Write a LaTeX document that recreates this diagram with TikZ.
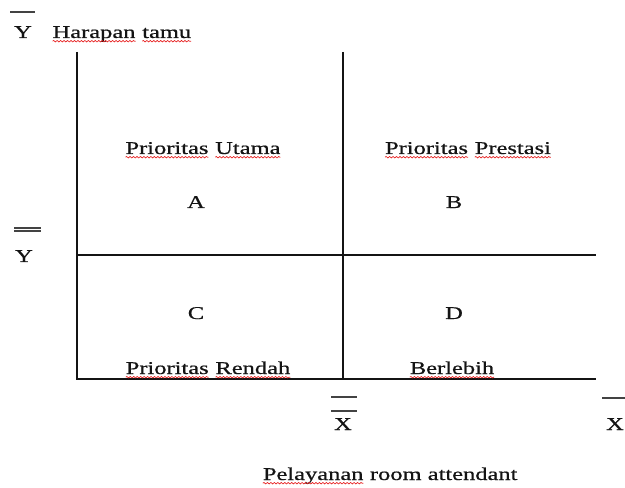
\documentclass[tikz,border=0pt]{standalone}
\usepackage{fontspec}
\setmainfont{Liberation Serif}[FakeStretch=1.36, FakeBold=0.6]
\usetikzlibrary{decorations.pathmorphing}
\usepackage{xcolor}
\definecolor{squig}{RGB}{230,30,30}
\definecolor{ink}{RGB}{20,20,20}
% red spell-check wave under a word
\newcommand\salah[1]{\tikz[baseline=(w.base)]{%
  \node[inner sep=0pt, outer sep=0pt, anchor=center] (w) {#1};
  \draw[squig, line width=0.5pt, decorate, decoration={snake, amplitude=0.55pt, segment length=2.6pt}]
    ([yshift=-2.4pt]w.base west) -- ([yshift=-2.4pt]w.base east);}}

\begin{document}
\begin{tikzpicture}[x=0.75pt, y=-0.75pt,
    font=\fontsize{13.5}{16}\selectfont,
    axisline/.style={ink, line width=0.9pt},
    barline/.style={ink!80, line width=0.8pt},
    lbl/.style={anchor=base, inner sep=0pt, text=ink}]
  \useasboundingbox (0,0) rectangle (625,488);

  % axes and quadrant lines
  \draw[axisline] (77,52) -- (77,379) -- (596,379);
  \draw[axisline] (343,52) -- (343,379);
  \draw[axisline] (77,255) -- (596,255);

  % vertical axis labels
  \draw[barline] (10,12) -- (35,12);
  \node[lbl] (ytop) at (23,38) {Y};
  \node[lbl, anchor=base west] (harapan) at (52,38) {\salah{Harapan} \salah{tamu}};
  \draw[barline] (14,228) -- (41,228);
  \draw[barline] (14,231) -- (41,231);
  \node[lbl] (ymean) at (24,262) {Y};

  % quadrants
  \node[lbl] (utama) at (203,154) {\salah{Prioritas} \salah{Utama}};
  \node[lbl] (prestasi) at (468,154) {\salah{Prioritas} \salah{Prestasi}};
  \node[lbl] (qa) at (196,208) {A};
  \node[lbl] (qb) at (454,208) {B};
  \node[lbl] (qc) at (196,319) {C};
  \node[lbl] (qd) at (454,319) {D};
  \node[lbl] (rendah) at (208,374) {\salah{Prioritas} \salah{Rendah}};
  \node[lbl] (lebih) at (452,374) {\salah{Berlebih}};

  % horizontal axis labels
  \draw[barline] (331,397) -- (357,397);
  \draw[barline] (331,411) -- (357,411);
  \node[lbl] (xmean) at (343,430) {X};
  \draw[barline] (602,398) -- (625,398);
  \node[lbl] (xend) at (615,430) {X};
  \node[lbl] (pelayanan) at (390,480) {\salah{Pelayanan} room attendant};
\end{tikzpicture}
\end{document}
